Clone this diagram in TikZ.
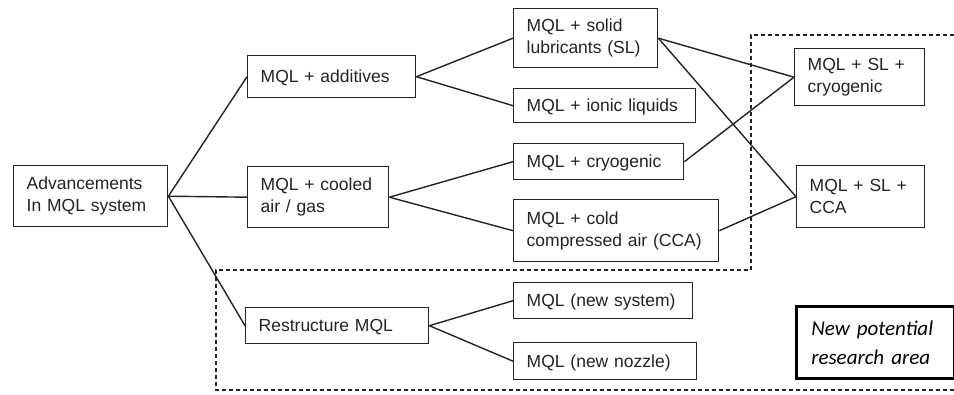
\documentclass[tikz,border=0pt]{standalone}
\usepackage{fontspec}
\setmainfont{Liberation Sans}
\newfontfamily\notefont{Carlito}
\definecolor{ink}{RGB}{35,35,35}
\begin{document}
\begin{tikzpicture}[x=1pt,y=-1pt,
  box/.style={draw=ink, line width=1.4pt, inner xsep=13pt, inner ysep=0pt,
    align=left, anchor=north west, text=ink,
    font=\fontsize{17.5}{22}\selectfont},
  oneline/.style={text height=12.5pt, text depth=0pt},
  link/.style={draw=ink, line width=1.4pt},
  region/.style={draw=ink, line width=1.2pt, dash pattern=on 4pt off 3pt},
  keybox/.style={draw=black, line width=2.6pt, inner xsep=15pt, inner ysep=0pt,
    align=left, anchor=north west, text width=128pt, minimum height=72pt,
    font=\notefont\itshape\fontsize{21}{29}\selectfont}]
\useasboundingbox (0,0) rectangle (954,395);

% dashed outline of the new research area
\draw[region] (954,35) -- (751,35) -- (751,270) -- (216,270) -- (216,390) -- (954,390);

% root
\node[box, text width=128pt, minimum height=61pt] (adv) at (13,165) {Advancements\\In MQL system};

% first level
\node[box, oneline, text width=142pt, minimum height=42pt] (add) at (247,55) {MQL + additives};
\node[box, text width=115pt, minimum height=61pt] (cool) at (247,166) {MQL + cooled\\air / gas};
\node[box, oneline, text width=157pt, minimum height=36pt] (restr) at (245,307) {Restructure MQL};

% second level
\node[box, text width=118pt, minimum height=59pt] (sl) at (513,8) {MQL + solid\\lubricants (SL)};
\node[box, oneline, text width=156pt, minimum height=34pt] (ionic) at (513,88) {MQL + ionic liquids};
\node[box, oneline, text width=144pt, minimum height=36pt] (cryo) at (513,143) {MQL + cryogenic};
\node[box, text width=179pt, minimum height=62pt] (cca) at (513,199) {MQL + cold\\compressed air (CCA)};
\node[box, oneline, text width=153pt, minimum height=36pt] (nsys) at (513,282) {MQL (new system)};
\node[box, oneline, text width=157pt, minimum height=37pt] (nnoz) at (513,342) {MQL (new nozzle)};

% combined systems
\node[box, text width=104pt, minimum height=57pt] (slcryo) at (794,48) {MQL + SL +\\cryogenic};
\node[box, text width=102pt, minimum height=62pt] (slcca) at (796,165) {MQL + SL +\\CCA};

% legend
\node[keybox] (key) at (795,305) {New potential\\research area};

% connectors
\draw[link] (adv.east) -- (add.west);
\draw[link] (adv.east) -- (cool.west);
\draw[link] (adv.east) -- (restr.west);
\draw[link] (add.east) -- (sl.west);
\draw[link] (add.east) -- (ionic.west);
\draw[link] (cool.east) -- (cryo.west);
\draw[link] (cool.east) -- (cca.west);
\draw[link] (restr.east) -- (nsys.west);
\draw[link] (restr.east) -- (nnoz.west);
\draw[link] (sl.east) -- (slcryo.west);
\draw[link] (sl.east) -- (slcca.west);
\draw[link] (cryo.east) -- (slcryo.west);
\draw[link] (cca.east) -- (slcca.west);
\end{tikzpicture}
\end{document}
